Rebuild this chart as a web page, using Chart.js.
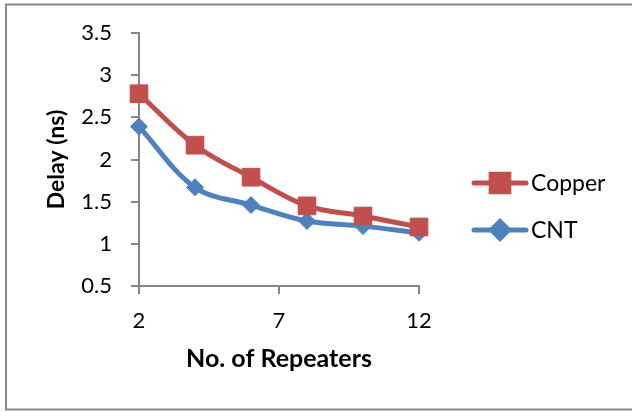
<!DOCTYPE html>
<html>
<head>
<meta charset="utf-8">
<script src="https://cdn.jsdelivr.net/npm/chart.js@4/dist/chart.umd.min.js"></script>
<style>
  html, body { margin: 0; padding: 0; background: #fff; }
  #wrap { position: relative; width: 632px; height: 412px; }
</style>
</head>
<body>
<div id="wrap"><canvas id="chart" width="632" height="412"></canvas></div>
<script>
const repeaters = [2, 4, 6, 8, 10, 12];
const copperDelay = [2.78, 2.17, 1.79, 1.45, 1.33, 1.20];
const cntDelay = [2.39, 1.67, 1.46, 1.27, 1.21, 1.13];
const xTicks = [2, 7, 12];
const seriesNames = ['Copper', 'CNT'];

const FONT = 'Lato, "Open Sans", sans-serif';
const AXIS_GREY = '#868686';

// outer frame (cut off on the right like the source)
const framePlugin = {
  id: 'frame',
  beforeDraw(chart) {
    const ctx = chart.ctx;
    ctx.save();
    ctx.strokeStyle = '#898989';
    ctx.lineWidth = 2;
    ctx.strokeRect(6, 4.5, 700, 405);
    ctx.restore();
  }
};

// legend with line + marker, drawn from the dataset styles
const lineLegend = {
  id: 'lineLegend',
  afterDraw(chart) {
    const ctx = chart.ctx;
    const rows = [183, 230];
    chart.data.datasets.forEach((ds, i) => {
      const y = rows[i];
      ctx.save();
      ctx.strokeStyle = ds.borderColor;
      ctx.lineWidth = ds.borderWidth;
      ctx.lineCap = 'round';
      ctx.beginPath();
      ctx.moveTo(474, y);
      ctx.lineTo(526, y);
      ctx.stroke();
      Chart.helpers.drawPoint(ctx, {
        pointStyle: ds.pointStyle,
        radius: ds.pointRadius,
        borderWidth: 1
      }, 500, y);
      ctx.fillStyle = ds.backgroundColor;
      ctx.fill();
      ctx.fillStyle = '#000';
      ctx.font = '23px ' + FONT;
      ctx.textBaseline = 'middle';
      ctx.fillText(ds.label, 531, y + 1);
      ctx.restore();
    });
  }
};

new Chart(document.getElementById('chart'), {
  type: 'line',
  data: {
    datasets: [
      {
        label: seriesNames[0],
        data: repeaters.map((x, i) => ({ x: x, y: copperDelay[i] })),
        borderColor: '#C0504D',
        backgroundColor: '#C0504D',
        pointBackgroundColor: '#C0504D',
        borderWidth: 5,
        pointStyle: 'rect',
        pointRadius: 12.5,
        pointBorderWidth: 1,
        tension: 0.35,
        clip: false
      },
      {
        label: seriesNames[1],
        data: repeaters.map((x, i) => ({ x: x, y: cntDelay[i] })),
        borderColor: '#4F81BD',
        backgroundColor: '#4F81BD',
        pointBackgroundColor: '#4F81BD',
        borderWidth: 5,
        pointStyle: 'rectRot',
        pointRadius: 8.5,
        pointBorderWidth: 1,
        tension: 0.35,
        clip: false
      }
    ]
  },
  options: {
    responsive: false,
    animation: false,
    layout: { padding: { top: 33, right: 213, left: 0, bottom: 0 } },
    plugins: { legend: { display: false }, tooltip: { enabled: false } },
    scales: {
      x: {
        type: 'linear',
        min: 2,
        max: 12,
        afterBuildTicks(scale) { scale.ticks = xTicks.map(v => ({ value: v })); },
        afterFit(scale) { scale.height = 126; },
        border: { color: AXIS_GREY, width: 2 },
        grid: { drawOnChartArea: false, tickLength: 8, color: AXIS_GREY, lineWidth: 2 },
        ticks: { color: '#000', padding: 14, font: { family: FONT, size: 22 }, maxRotation: 0 },
        title: {
          display: true,
          text: 'No. of Repeaters',
          color: '#000',
          font: { family: FONT, size: 25, weight: 'bold' },
          padding: { top: 0, bottom: 38 }
        }
      },
      y: {
        min: 0.5,
        max: 3.5,
        afterFit(scale) { scale.width = 139; },
        border: { color: AXIS_GREY, width: 2 },
        grid: { drawOnChartArea: false, tickLength: 8, color: AXIS_GREY, lineWidth: 2 },
        ticks: {
          stepSize: 0.5,
          color: '#000',
          padding: 19,
          font: { family: FONT, size: 22 },
          callback: v => String(v)
        },
        title: {
          display: true,
          text: 'Delay (ns)',
          color: '#000',
          font: { family: FONT, size: 23, weight: 'bold' },
          padding: { top: 43, bottom: 0 }
        }
      }
    }
  },
  plugins: [framePlugin, lineLegend]
});
</script>
</body>
</html>
